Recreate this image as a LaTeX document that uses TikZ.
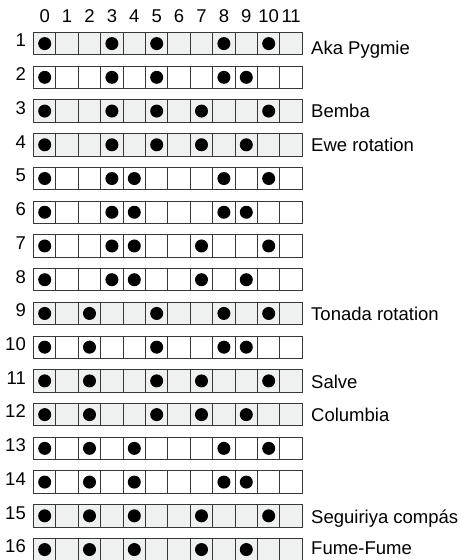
\documentclass[tikz,border=0pt]{standalone}
\usepackage{fontspec}
\setmainfont{Liberation Sans}
\definecolor{cellgray}{RGB}{239,240,240}
\definecolor{gridline}{RGB}{55,55,55}
\tikzset{
  cell/.style={draw=gridline, line width=0.9pt, minimum width=22.4pt, minimum height=22.4pt, inner sep=0pt, outer sep=0pt},
  txt/.style={inner sep=0pt, font=\fontsize{18.5}{20}\selectfont},
  dot/.style={fill=black}
}
\begin{document}
\begin{tikzpicture}[x=1pt,y=-1pt]
\useasboundingbox (0,0) rectangle (463,560);
\foreach \c in {0,...,11}{
  \node[txt, anchor=base] (col\c) at ({33.5+22.4*(\c+0.5)}, 22) {\c};
}
\foreach \r/\f/\ds/\t/\b in {
  1/cellgray/{0,3,5,8,10}/{Aka Pygmie}/22.5,
  2/white/{0,3,5,8,9}/{}/18,
  3/cellgray/{0,3,5,7,10}/{Bemba}/18,
  4/cellgray/{0,3,5,7,9}/{Ewe rotation}/17.5,
  5/white/{0,3,4,8,10}/{}/18,
  6/white/{0,3,4,8,9}/{}/18,
  7/white/{0,3,4,7,10}/{}/18,
  8/white/{0,3,4,7,9}/{}/18,
  9/cellgray/{0,2,5,8,10}/{Tonada rotation}/18,
  10/white/{0,2,5,8,9}/{}/18,
  11/cellgray/{0,2,5,7,10}/{Salve}/18.5,
  12/cellgray/{0,2,5,7,9}/{Columbia}/18.3,
  13/white/{0,2,4,8,10}/{}/18,
  14/white/{0,2,4,8,9}/{}/18,
  15/cellgray/{0,2,4,7,10}/{Seguiriya compás}/18.7,
  16/cellgray/{0,2,4,7,9}/{Fume-Fume}/16}{
  \pgfmathsetmacro{\top}{32.4+(\r-1)*33.73}
  \pgfmathsetmacro{\yc}{\top+11.2}
  \node[txt, anchor=base east] (row\r) at (26, {\top+14.5}) {\r};
  \foreach \c in {0,...,11}{
    \node[cell, fill=\f] (c\r-\c) at ({33.5+22.4*(\c+0.5)}, \yc) {};
  }
  \foreach \d in \ds{
    \fill[dot] (c\r-\d) circle[radius=6.5];
  }
  \node[txt, anchor=base west] (name\r) at (311, {\top+\b}) {\t};
}
\end{tikzpicture}
\end{document}
